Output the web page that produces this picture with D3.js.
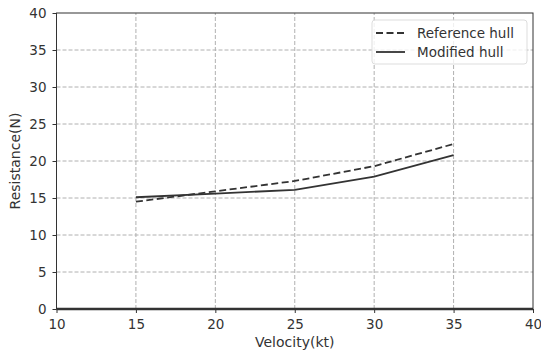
<!DOCTYPE html>
<html>
<head>
<meta charset="utf-8">
<script src="https://cdn.jsdelivr.net/npm/d3@7"></script>
<style>
  body { margin: 0; background: #fff; }
  text { font-family: "DejaVu Sans", sans-serif; }
</style>
</head>
<body>
<div id="chart"></div>
<script>
// data
var velocity      = [15, 20, 25, 30, 35]
var referenceHull = [14.5, 15.9, 17.3, 19.3, 22.3]
var modifiedHull  = [15.1, 15.6, 16.1, 17.9, 20.8]
var xTicks = [10, 15, 20, 25, 30, 35, 40]
var yTicks = [0, 5, 10, 15, 20, 25, 30, 35, 40]

var width  = 541
var height = 353
var margin = {left: 56.5, right: 8, top: 13, bottom: 44}
var fontSize = "13.5px"

var x = d3.scaleLinear()
    .domain([10, 40])
    .range([margin.left, width - margin.right])

var y = d3.scaleLinear()
    .domain([0, 40])
    .range([height - margin.bottom, margin.top])

var svg = d3.select("#chart")
    .append("svg")
    .attr("width", width)
    .attr("height", height)

// grid
svg.append("g")
    .selectAll("line")
    .data(xTicks.slice(1, -1))
    .enter()
    .append("line")
    .attr("x1", d => x(d)).attr("x2", d => x(d))
    .attr("y1", y(0)).attr("y2", y(40))
    .attr("stroke", "#b0b0b0")
    .attr("stroke-dasharray", "4,2")

svg.append("g")
    .selectAll("line")
    .data(yTicks.slice(1, -1))
    .enter()
    .append("line")
    .attr("y1", d => y(d)).attr("y2", d => y(d))
    .attr("x1", x(10)).attr("x2", x(40))
    .attr("stroke", "#b0b0b0")
    .attr("stroke-dasharray", "4,2")

// axes
var xAxis = svg.append("g")
    .attr("transform", "translate(0," + y(0) + ")")
    .call(d3.axisBottom(x).tickValues(xTicks).tickSize(4).tickPadding(6))
var yAxis = svg.append("g")
    .attr("transform", "translate(" + x(10) + ",0)")
    .call(d3.axisLeft(y).tickValues(yTicks).tickSize(4).tickPadding(6))

for (const ax of [xAxis, yAxis]) {
    ax.select(".domain").remove()
    ax.selectAll("line").attr("stroke", "#333")
    ax.selectAll("text")
        .attr("fill", "#333")
        .style("font-size", fontSize)
        .style("font-family", "DejaVu Sans")
}

// frame
svg.append("rect")
    .attr("x", x(10)).attr("y", y(40))
    .attr("width", x(40) - x(10)).attr("height", y(0) - y(40))
    .attr("fill", "none")
    .attr("stroke", "#333")
    .attr("stroke-width", 1)
svg.append("line")
    .attr("x1", x(10)).attr("x2", x(40))
    .attr("y1", y(0)).attr("y2", y(0))
    .attr("stroke", "#333")
    .attr("stroke-width", 2.5)

// axis titles
svg.append("text")
    .attr("x", (x(10) + x(40)) / 2)
    .attr("y", 347)
    .attr("text-anchor", "middle")
    .attr("fill", "#333")
    .style("font-size", "14px")
    .text("Velocity(kt)")

svg.append("text")
    .attr("transform", "translate(20," + y(20) + ") rotate(-90)")
    .attr("text-anchor", "middle")
    .attr("fill", "#333")
    .style("font-size", "14px")
    .text("Resistance(N)")

// lines
var line = d3.line()
    .x((d, i) => x(velocity[i]))
    .y(d => y(d))

svg.append("path")
    .datum(referenceHull)
    .attr("d", line)
    .attr("fill", "none")
    .attr("stroke", "#333")
    .attr("stroke-width", 1.8)
    .attr("stroke-dasharray", "7,3.5")

svg.append("path")
    .datum(modifiedHull)
    .attr("d", line)
    .attr("fill", "none")
    .attr("stroke", "#333")
    .attr("stroke-width", 1.8)

// legend
var legend = svg.append("g")
    .attr("transform", "translate(372,20)")

legend.append("rect")
    .attr("width", 155).attr("height", 44)
    .attr("rx", 3)
    .attr("fill", "#fff")
    .attr("fill-opacity", 0.8)
    .attr("stroke", "#ddd")

var entries = [
    {name: "Reference hull", dash: "7,3.5"},
    {name: "Modified hull", dash: null}
]
entries.forEach(function (e, i) {
    var yy = 13 + i * 19
    legend.append("line")
        .attr("x1", 4).attr("x2", 33)
        .attr("y1", yy).attr("y2", yy)
        .attr("stroke", "#333")
        .attr("stroke-width", 1.8)
        .attr("stroke-dasharray", e.dash)
    legend.append("text")
        .attr("x", 45).attr("y", yy + 5)
        .attr("fill", "#333")
        .style("font-size", "13.5px")
        .text(e.name)
})
</script>
</body>
</html>
